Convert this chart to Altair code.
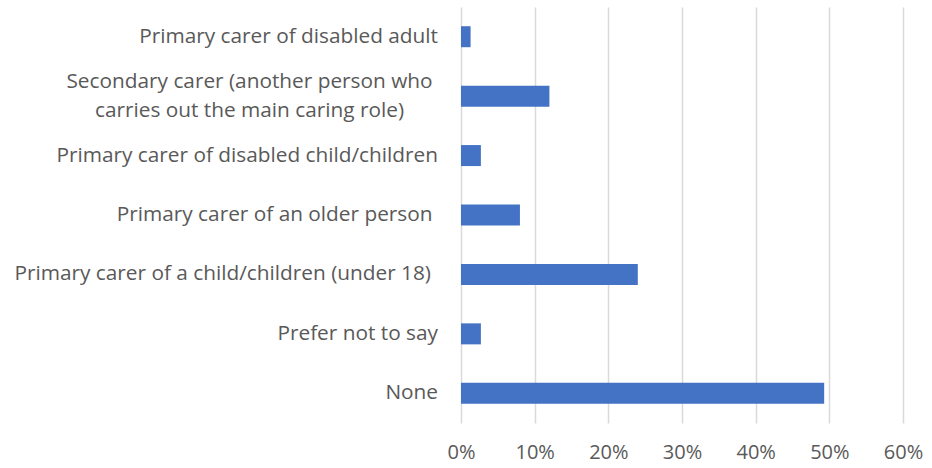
import altair as alt
import pandas as pd
import json

categories = [
    "Primary carer of disabled adult",
    "Secondary carer (another person who carries out the main caring role)",
    "Primary carer of disabled child/children",
    "Primary carer of an older person",
    "Primary carer of a child/children (under 18)",
    "Prefer not to say",
    "None",
]
label_text = [
    ["Primary carer of disabled adult"],
    ["Secondary carer (another person who", "carries out the main caring role)"],
    ["Primary carer of disabled child/children"],
    ["Primary carer of an older person"],
    ["Primary carer of a child/children (under 18)"],
    ["Prefer not to say"],
    ["None"],
]
values = [0.013, 0.120, 0.027, 0.080, 0.240, 0.027, 0.493]

df = pd.DataFrame({"category": categories, "value": values})

mapping = json.dumps({c: l for c, l in zip(categories, label_text)})
label_expr = f"{mapping}[datum.value]"

FONT = "Open Sans"
GREY = "#595959"


def is_cat(i):
    return f"datum.value === '{categories[i]}'"


chart = (
    alt.Chart(df)
    .mark_bar(color="#4472C4", size=21)
    .encode(
        x=alt.X(
            "value:Q",
            scale=alt.Scale(domain=[0, 0.6], nice=False),
            axis=alt.Axis(
                format=".0%",
                values=[0, 0.1, 0.2, 0.3, 0.4, 0.5, 0.6],
                title=None,
                domain=False,
                ticks=False,
                grid=True,
                gridColor="#d9d9d9",
                gridWidth=1.5,
                labelFont=FONT,
                labelFontSize=20,
                labelColor=GREY,
                labelPadding=19,
                labelFlush=False,
            ),
        ),
        y=alt.Y(
            "category:N",
            sort=categories,
            scale=alt.Scale(paddingInner=0.647, paddingOuter=0.3235),
            axis=alt.Axis(
                title=None,
                domain=False,
                ticks=False,
                labelExpr=label_expr,
                labelFont=FONT,
                labelFontSize=20.8,
                labelColor=GREY,
                labelPadding={
                    "condition": [
                        {"test": is_cat(1), "value": 212},
                        {"test": is_cat(3), "value": 29},
                        {"test": is_cat(4), "value": 30.5},
                    ],
                    "value": 23.5,
                },
                labelAlign={
                    "condition": {"test": is_cat(1), "value": "center"},
                    "value": "right",
                },
                labelLimit=0,
                labelLineHeight=29,
                labelOffset={
                    "condition": {"test": is_cat(1), "value": -14},
                    "value": 0,
                },
            ),
        ),
    )
    .properties(
        width=442,
        height=416,
        autosize=alt.AutoSizeParams(type="none"),
        padding={"left": 461, "top": 7, "right": 29, "bottom": 45},
    )
    .configure_view(stroke=None)
)

chart.save("out.html", embed_options={"renderer": "svg", "actions": False})
